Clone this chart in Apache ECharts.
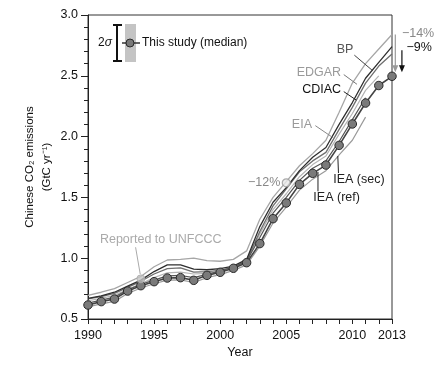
<!DOCTYPE html>
<html><head><meta charset="utf-8">
<script src="https://cdn.jsdelivr.net/npm/echarts@6/dist/echarts.min.js"></script>
<style>html,body{margin:0;padding:0;background:#fff}#c{width:445px;height:368px}</style>
</head><body><div id="c"></div>
<script>
const years = [1990,1991,1992,1993,1994,1995,1996,1997,1998,1999,2000,2001,2002,2003,2004,2005,2006,2007,2008,2009,2010,2011,2012,2013];
const median = [0.615,0.643,0.664,0.730,0.774,0.807,0.837,0.840,0.818,0.859,0.884,0.917,0.963,1.120,1.325,1.454,1.607,1.698,1.766,1.928,2.104,2.276,2.420,2.496];
const bandLow = [0.58,0.61,0.63,0.695,0.74,0.775,0.805,0.808,0.786,0.826,0.85,0.882,0.925,1.07,1.27,1.40,1.55,1.635,1.70,1.86,2.03,2.19,2.33,2.40];
const bandHigh = [0.65,0.675,0.70,0.765,0.81,0.84,0.87,0.872,0.85,0.892,0.918,0.952,1.00,1.17,1.38,1.51,1.665,1.76,1.83,2.00,2.18,2.36,2.51,2.60];
const edgar = [0.695,0.72,0.75,0.80,0.85,0.93,0.985,0.99,1.00,0.98,0.975,0.99,1.06,1.32,1.50,1.63,1.76,1.86,1.97,2.20,2.44,2.60,2.72,2.84];
const cdiac = [0.67,0.69,0.72,0.77,0.82,0.89,0.945,0.945,0.91,0.905,0.915,0.935,0.99,1.26,1.46,1.58,1.72,1.83,1.91,2.10,2.28,2.48,2.61,2.74];
const bp = [0.665,0.685,0.71,0.76,0.81,0.87,0.915,0.92,0.885,0.89,0.90,0.925,0.98,1.22,1.43,1.57,1.71,1.80,1.87,2.06,2.24,2.44,2.58,2.68];
const eia = [0.65,0.67,0.695,0.745,0.79,0.84,0.88,0.885,0.87,0.875,0.89,0.915,0.975,1.20,1.40,1.53,1.67,1.77,1.84,2.02,2.19,2.38,2.50];
const ieaRef = [0.63,0.655,0.68,0.74,0.785,0.82,0.855,0.858,0.84,0.868,0.895,0.93,0.975,1.17,1.37,1.50,1.64,1.74,1.80,1.96,2.14,2.32];
const ieaSec = [0.60,0.625,0.645,0.71,0.755,0.79,0.82,0.822,0.80,0.84,0.865,0.90,0.945,1.10,1.29,1.42,1.56,1.65,1.72,1.85,1.97,2.16];
const unfcccYears = [1994, 2005];
const unfcccValues = [0.83, 1.62];

const FONT = "'Liberation Sans', Arial, sans-serif";
const pairs = arr => arr.map((v,i)=>[years[i], v]);
const chart = echarts.init(document.getElementById('c'));

function lineSeries(name, arr, color, width){
  return {name, type:'line', data: pairs(arr), symbol:'none', silent:true,
    lineStyle:{color, width}, z:3, animation:false};
}

chart.setOption({
  animation:false,
  grid:{left:88, right:53, top:15, bottom:49, show:true, borderColor:'#333', borderWidth:1},
  xAxis:{type:'value', min:1990, max:2013, interval:1,
    axisLine:{lineStyle:{color:'#222', width:1}},
    axisTick:{length:5, lineStyle:{color:'#222'}},
    axisLabel:{formatter:v => (v%5===0 || v===2013) ? String(v) : '', color:'#111', fontSize:12.5, fontFamily:FONT, margin:10},
    splitLine:{show:false},
    name:'Year', nameLocation:'middle', nameGap:27, nameMoveOverlap:false,
    nameTextStyle:{color:'#111', fontSize:12.5, fontFamily:FONT}},
  yAxis:{type:'value', min:0.5, max:3.0, interval:0.5,
    axisLine:{show:true, lineStyle:{color:'#222', width:1}},
    axisTick:{show:true, length:7, lineStyle:{color:'#222'}},
    minorTick:{show:true, splitNumber:5, length:4, lineStyle:{color:'#222'}},
    axisLabel:{formatter:v => v.toFixed(1), color:'#111', fontSize:12.5, fontFamily:FONT, margin:10},
    splitLine:{show:false}, minorSplitLine:{show:false},
    name:'Chinese CO\u2082 emissions\n(GtC yr\u207B\u00B9)', nameLocation:'middle', nameRotate:90, nameGap:33, nameMoveOverlap:false,
    nameTextStyle:{color:'#111', fontSize:11.5, fontFamily:FONT, lineHeight:17}},
  series:[
    {name:'bandLow', type:'line', stack:'band', data:pairs(bandLow), symbol:'none', lineStyle:{width:0, opacity:0}, z:1, silent:true},
    {name:'band', type:'line', stack:'band', data:pairs(bandHigh.map((v,i)=>v-bandLow[i])), symbol:'none',
      lineStyle:{width:0, opacity:0}, areaStyle:{color:'#c9c9c9', opacity:1}, z:1, silent:true},
    lineSeries('EDGAR', edgar, '#a6a6a6', 1.3),
    lineSeries('EIA', eia, '#b4b4b4', 1.2),
    lineSeries('BP', bp, '#6e6e6e', 1.3),
    lineSeries('CDIAC', cdiac, '#2e2e2e', 1.3),
    lineSeries('IEA (sec)', ieaSec, '#9a9a9a', 1.2),
    lineSeries('IEA (ref)', ieaRef, '#555555', 1.2),
    {name:'This study', type:'line', data:pairs(median), symbol:'circle', symbolSize:8.5,
      lineStyle:{color:'#444', width:1.6}, itemStyle:{color:'#7a7a7a', borderColor:'#2a2a2a', borderWidth:1}, z:5, silent:true},
    {name:'UNFCCC', type:'scatter', data:unfcccYears.map((y,i)=>({value:[y, unfcccValues[i]],
        itemStyle: i===0 ? {color:'#c4c4c4', borderColor:'#aaa', borderWidth:1} : {color:'#e8e8e8', borderColor:'#999', borderWidth:1.2}})),
      symbol:'circle', symbolSize:8, z:6, silent:true}
  ]
});

const P = (x,y) => chart.convertToPixel({xAxisIndex:0, yAxisIndex:0}, [x,y]);
const g = [];
function text(t, x, y, color, align, size){
  g.push({type:'text', x, y, style:{text:t, fill:color, font:`${size||12.5}px ${FONT}`, textAlign:align||'left', textVerticalAlign:'middle'}, z:10});
}
function leader(a, b, color, w){
  g.push({type:'line', shape:{x1:a[0], y1:a[1], x2:b[0], y2:b[1]}, style:{stroke:color, lineWidth:w||1}, z:10});
}
function arrow(x, y1, y2, color){
  leader([x,y1],[x,y2-5],color,1.2);
  g.push({type:'polygon', shape:{points:[[x-3,y2-7],[x+3,y2-7],[x,y2]]}, style:{fill:color}, z:10});
}

// Annotations placed in data coordinates
let a, b;
a = P(2009.45, 2.715); text('BP', a[0], a[1], '#555', 'center');
leader(P(2010.15, 2.67), P(2011.56, 2.54), '#444');
a = P(2009.3, 2.53); text('EDGAR', a[0]-2, a[1], '#9a9a9a', 'right');
leader(P(2009.35, 2.51), P(2010.35, 2.43), '#777');
a = P(2009.3, 2.39); text('CDIAC', a[0]-2, a[1], '#111', 'right');
leader(P(2009.35, 2.37), P(2010.3, 2.30), '#222');
a = P(2007.1, 2.10); text('EIA', a[0]-2, a[1], '#9a9a9a', 'right');
leader(P(2007.2, 2.09), P(2008.55, 1.99), '#888');
a = P(2008.55, 1.643); text('IEA (sec)', a[0], a[1], '#222', 'left');
leader(P(2008.95, 1.70), P(2008.9, 1.84), '#222');
a = P(2007.05, 1.495); text('IEA (ref)', a[0], a[1], '#222', 'left');
leader(P(2007.4, 1.55), P(2007.4, 1.71), '#222');
a = P(2004.55, 1.62); text('\u221212%', a[0], a[1], '#888', 'right');
a = P(1995.5, 1.15); text('Reported to UNFCCC', a[0], a[1], '#aaa', 'center');
leader(P(1993.6, 1.09), P(1993.95, 0.87), '#aaa');
a = P(2013.75, 2.85); text('\u221214%', a[0], a[1], '#888', 'left');
a = P(2014.1, 2.73); text('\u22129%', a[0], a[1], '#111', 'left');
b = P(2013.25, 2.84); a = P(2013.25, 2.53); arrow(b[0], b[1], a[1], '#999');
b = P(2013.75, 2.71); a = P(2013.75, 2.53); arrow(b[0], b[1], a[1], '#111');

// Legend (top-left inset)
g.push({type:'rect', shape:{x:125, y:24, width:11, height:38}, style:{fill:'#c4c4c4'}, z:10});
leader([117,25],[117,61],'#111',2);
leader([113,25],[122,25],'#111',2);
leader([113,61],[122,61],'#111',2);
leader([122,43],[140,43],'#333',1.5);
g.push({type:'circle', shape:{cx:130, cy:43, r:4}, style:{fill:'#7a7a7a', stroke:'#2a2a2a', lineWidth:1}, z:11});
text('This study (median)', 142, 43, '#111', 'left', 12);
g.push({type:'text', x:98, y:43, style:{rich:{a:{fontSize:12, fontFamily:FONT, fill:'#111'}, b:{fontSize:12, fontFamily:FONT, fontStyle:'italic', fill:'#111'}}, text:'{a|2}{b|\u03C3}', textVerticalAlign:'middle'}, z:10});

chart.setOption({graphic:g});
</script>
</body></html>
